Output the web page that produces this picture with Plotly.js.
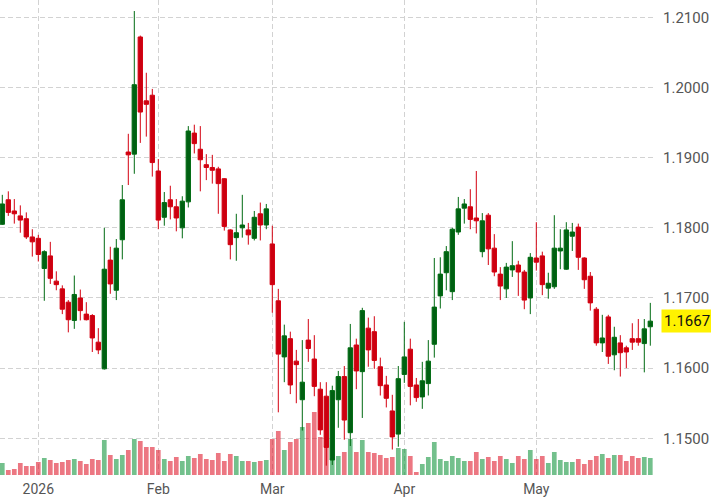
<!DOCTYPE html>
<html>
<head>
<meta charset="utf-8">
<script src="https://cdn.plot.ly/plotly-3.0.1.min.js"></script>
<style>html,body{margin:0;padding:0;background:#fff;}#chart{width:711px;height:500px;}</style>
</head>
<body>
<div id="chart"></div>
<script>
// Trading days (category axis)
const dates = [
  '2025-12-23','2025-12-24','2025-12-26','2025-12-29','2025-12-30','2025-12-31',
  '2026-01-02','2026-01-05','2026-01-06','2026-01-07','2026-01-08','2026-01-09',
  '2026-01-12','2026-01-13','2026-01-14','2026-01-15','2026-01-16',
  '2026-01-20','2026-01-21','2026-01-22','2026-01-23',
  '2026-01-26','2026-01-27','2026-01-28','2026-01-29','2026-01-30',
  '2026-02-02','2026-02-03','2026-02-04','2026-02-05','2026-02-06',
  '2026-02-09','2026-02-10','2026-02-11','2026-02-12','2026-02-13',
  '2026-02-17','2026-02-18','2026-02-19','2026-02-20',
  '2026-02-23','2026-02-24','2026-02-25','2026-02-26','2026-02-27',
  '2026-03-02','2026-03-03','2026-03-04','2026-03-05','2026-03-06',
  '2026-03-09','2026-03-10','2026-03-11','2026-03-12','2026-03-13',
  '2026-03-16','2026-03-17','2026-03-18','2026-03-19','2026-03-20',
  '2026-03-23','2026-03-24','2026-03-25','2026-03-26','2026-03-27',
  '2026-03-30','2026-03-31',
  '2026-04-01','2026-04-02','2026-04-03',
  '2026-04-06','2026-04-07','2026-04-08','2026-04-09','2026-04-10',
  '2026-04-13','2026-04-14','2026-04-15','2026-04-16','2026-04-17',
  '2026-04-20','2026-04-21','2026-04-22','2026-04-23','2026-04-24',
  '2026-04-27','2026-04-28','2026-04-29','2026-04-30',
  '2026-05-01','2026-05-04','2026-05-05','2026-05-06','2026-05-07','2026-05-08',
  '2026-05-11','2026-05-12','2026-05-13','2026-05-14','2026-05-15',
  '2026-05-18','2026-05-19','2026-05-20','2026-05-21','2026-05-22',
  '2026-05-26','2026-05-27','2026-05-28','2026-05-29'
];

const open = [
  1.1805,1.1840,1.1824,1.1817,1.1813,1.1787,1.1785,1.1742,1.1760,1.1724,
  1.1713,1.1694,1.1668,1.1700,1.1677,1.1675,1.1637,1.1599,1.1754,1.1711,
  1.1783,1.1908,1.1905,1.2072,1.1981,1.1989,1.1881,1.1815,1.1840,1.1830,
  1.1800,1.1837,1.1935,1.1912,1.1890,1.1886,1.1884,1.1870,1.1797,1.1786,
  1.1800,1.1797,1.1785,1.1820,1.1804,1.1777,1.1696,1.1616,1.1642,1.1610,
  1.1555,1.1640,1.1613,1.1570,1.1560,1.1469,1.1555,1.1588,1.1508,1.1633,
  1.1595,1.1657,1.1652,1.1602,1.1576,1.1539,1.1506,1.1591,1.1627,1.1576,
  1.1559,1.1578,1.1634,1.1703,1.1736,1.1709,1.1794,1.1828,1.1830,1.1814,
  1.1766,1.1818,1.1771,1.1734,1.1713,1.1740,1.1747,1.1737,1.1700,1.1757,
  1.1760,1.1714,1.1716,1.1767,1.1741,1.1788,1.1801,1.1757,1.1731,1.1684,
  1.1636,1.1673,1.1619,1.1636,1.1629,1.1642,1.1642,1.1635,1.1659
];
const high = [
  1.1847,1.1852,1.1841,1.1832,1.1822,1.1798,1.1790,1.1768,1.1780,1.1738,
  1.1718,1.1697,1.1732,1.1712,1.1694,1.1677,1.1657,1.1800,1.1773,1.1784,
  1.1861,1.1934,1.2109,1.2074,1.2021,1.1998,1.1898,1.1851,1.1860,1.1841,
  1.1845,1.1945,1.1947,1.1945,1.1905,1.1904,1.1887,1.1871,1.1798,1.1820,
  1.1847,1.1807,1.1824,1.1836,1.1834,1.1803,1.1713,1.1662,1.1652,1.1626,
  1.1640,1.1670,1.1647,1.1580,1.1580,1.1575,1.1596,1.1603,1.1663,1.1642,
  1.1686,1.1672,1.1674,1.1615,1.1589,1.1562,1.1603,1.1666,1.1642,1.1586,
  1.1609,1.1640,1.1757,1.1758,1.1774,1.1800,1.1844,1.1841,1.1855,1.1881,
  1.1821,1.1821,1.1791,1.1744,1.1750,1.1781,1.1753,1.1740,1.1764,1.1808,
  1.1766,1.1736,1.1818,1.1798,1.1808,1.1807,1.1806,1.1758,1.1737,1.1687,
  1.1676,1.1676,1.1659,1.1647,1.1632,1.1664,1.1670,1.1670,1.1693
];
const low = [
  1.1804,1.1817,1.1806,1.1793,1.1784,1.1759,1.1752,1.1696,1.1720,1.1711,
  1.1677,1.1651,1.1656,1.1668,1.1668,1.1623,1.1620,1.1598,1.1706,1.1697,
  1.1755,1.1861,1.1877,1.1921,1.1930,1.1873,1.1798,1.1803,1.1812,1.1795,
  1.1785,1.1829,1.1906,1.1852,1.1868,1.1863,1.1820,1.1796,1.1755,1.1753,
  1.1786,1.1776,1.1782,1.1782,1.1798,1.1679,1.1537,1.1580,1.1563,1.1550,
  1.1511,1.1609,1.1560,1.1505,1.1461,1.1462,1.1515,1.1498,1.1489,1.1570,
  1.1529,1.1602,1.1599,1.1561,1.1544,1.1484,1.1488,1.1579,1.1547,1.1552,
  1.1542,1.1561,1.1615,1.1685,1.1711,1.1697,1.1790,1.1806,1.1798,1.1792,
  1.1758,1.1747,1.1731,1.1697,1.1700,1.1730,1.1703,1.1684,1.1677,1.1739,
  1.1704,1.1699,1.1713,1.1741,1.1740,1.1767,1.1740,1.1713,1.1682,1.1632,
  1.1623,1.1606,1.1597,1.1588,1.1600,1.1626,1.1632,1.1594,1.1632
];
const close = [
  1.1834,1.1822,1.1820,1.1811,1.1787,1.1780,1.1762,1.1766,1.1728,1.1719,
  1.1684,1.1669,1.1705,1.1682,1.1669,1.1643,1.1626,1.1741,1.1720,1.1771,
  1.1840,1.1904,1.2004,1.1965,1.1976,1.1893,1.1811,1.1836,1.1830,1.1814,
  1.1838,1.1938,1.1920,1.1897,1.1886,1.1882,1.1863,1.1802,1.1776,1.1793,
  1.1804,1.1790,1.1815,1.1804,1.1827,1.1719,1.1620,1.1646,1.1576,1.1605,
  1.1580,1.1628,1.1574,1.1512,1.1487,1.1568,1.1588,1.1526,1.1629,1.1596,
  1.1682,1.1626,1.1611,1.1575,1.1557,1.1502,1.1585,1.1616,1.1574,1.1558,
  1.1582,1.1610,1.1687,1.1734,1.1766,1.1798,1.1827,1.1834,1.1812,1.1810,
  1.1810,1.1770,1.1737,1.1717,1.1744,1.1746,1.1737,1.1697,1.1758,1.1751,
  1.1719,1.1721,1.1771,1.1771,1.1797,1.1794,1.1758,1.1726,1.1693,1.1636,
  1.1643,1.1617,1.1644,1.1622,1.1623,1.1637,1.1637,1.1656,1.1667
];
// Volume (relative units)
const volume = [
  12,5,6,12,9,9,13,17,15,12,13,15,16,14,11,16,15,35,20,16,
  20,25,36,34,28,28,25,16,14,18,14,19,17,21,16,15,22,14,21,19,
  14,14,13,14,15,36,44,25,33,36,48,52,63,38,29,17,19,23,36,23,
  35,23,22,20,17,18,27,26,19,3,11,18,33,16,14,19,17,14,14,23,
  16,18,14,19,16,12,19,16,25,16,19,12,23,15,13,13,16,11,15,19,
  21,17,20,20,14,19,17,18,17
];

const tickDates = ['2026-01-02','2026-02-02','2026-03-02','2026-04-01','2026-05-01'];
const tickLabels = ['2026','Feb','Mar','Apr','May'];
const priceTicks = [1.15,1.16,1.17,1.18,1.19,1.20,1.21];
const lastPrice = 1.1667;

const volColors = close.map((c, i) => c >= open[i] ? 'rgba(0,140,45,0.55)' : 'rgba(222,20,40,0.58)');

const FONT = 'Roboto, "Noto Sans", sans-serif';
const gridColor = '#d2d2d2';

const traces = [
  {
    type: 'bar', x: dates, y: volume, xaxis: 'x', yaxis: 'y',
    marker: {color: volColors, line: {width: 0}},
    hoverinfo: 'skip', showlegend: false
  },
  {
    type: 'candlestick', x: dates, open: open, high: high, low: low, close: close,
    xaxis: 'x', yaxis: 'y2',
    increasing: {line: {color: '#006b12', width: 1}, fillcolor: '#006012'},
    decreasing: {line: {color: '#d40010', width: 1}, fillcolor: '#cc0010'},
    whiskerwidth: 0, showlegend: false
  }
];

const layout = {
  width: 711, height: 500,
  margin: {l: 0, r: 58, t: 0, b: 25},
  paper_bgcolor: '#ffffff', plot_bgcolor: '#ffffff',
  showlegend: false,
  bargap: 0.22,
  boxgap: 0.28, boxgroupgap: 0,
  font: {family: FONT, color: '#555555'},
  xaxis: {
    type: 'category', range: [-0.383, 108.45],
    tickvals: tickDates, ticktext: tickLabels,
    showgrid: true, gridcolor: gridColor, gridwidth: 1, griddash: '5px,3px',
    ticks: '', showline: false, zeroline: false,
    tickfont: {family: FONT, size: 14, color: '#555555'},
    ticklabelstandoff: 4,
    rangeslider: {visible: false}, fixedrange: true
  },
  yaxis: {
    range: [0, 475], visible: false, showgrid: false, zeroline: false, fixedrange: true
  },
  yaxis2: {
    overlaying: 'y', side: 'right', anchor: 'x',
    range: [1.14477, 1.21247],
    tickvals: priceTicks, tickformat: '.4f',
    showgrid: true, gridcolor: gridColor, gridwidth: 1, griddash: '5px,3px',
    ticks: '', showline: false, zeroline: false,
    tickfont: {family: FONT, size: 15, color: '#555555'},
    ticklabelstandoff: 9, fixedrange: true
  },
  annotations: [{
    xref: 'paper', yref: 'y2', x: 1, y: lastPrice,
    xanchor: 'left', yanchor: 'middle', xshift: 8,
    text: lastPrice.toFixed(4), showarrow: false,
    bgcolor: '#fff200', borderpad: 2,
    font: {family: FONT, size: 15, color: '#111111'}
  }]
};

Plotly.newPlot('chart', traces, layout, {staticPlot: true, displayModeBar: false});
</script>
</body>
</html>
